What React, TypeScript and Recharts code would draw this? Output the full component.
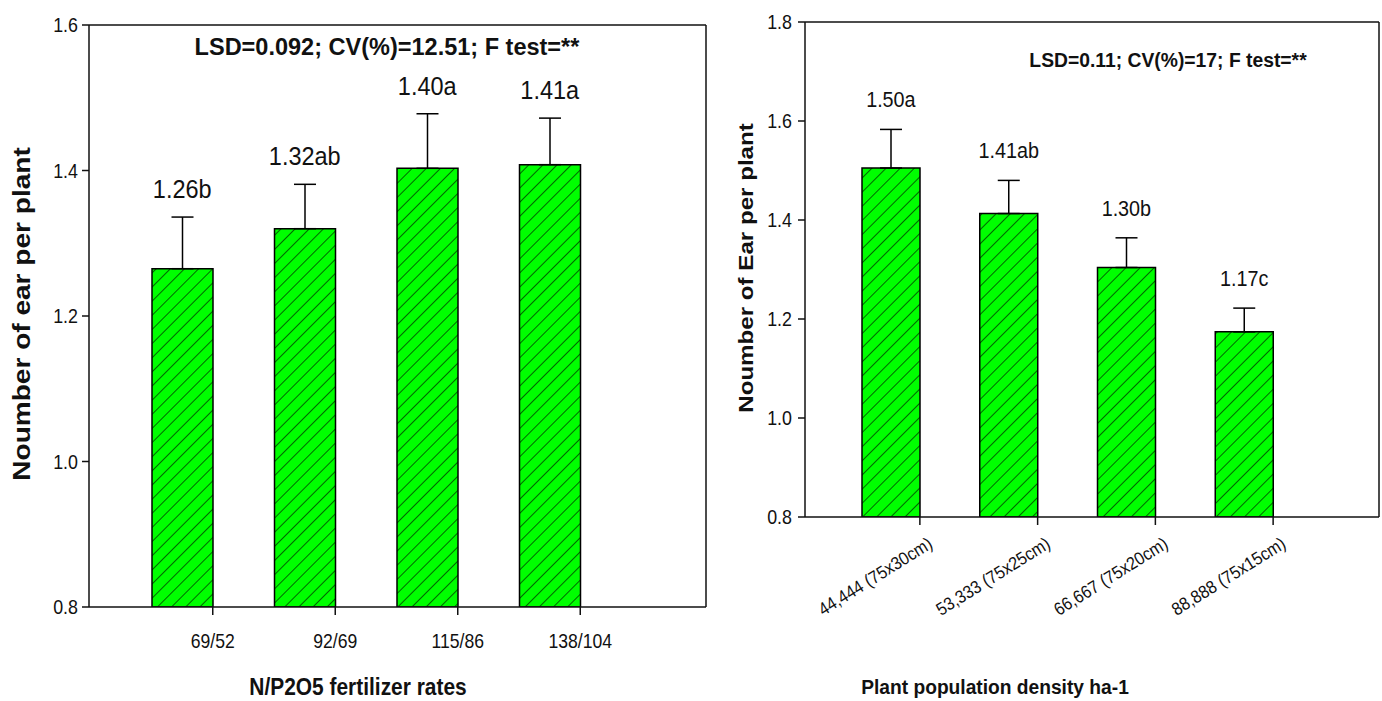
import React from 'react';
import { ComposedChart, Bar, Line, XAxis, YAxis, ErrorBar, LabelList, Label } from 'recharts';

const fertRates = ['69/52', '92/69', '115/86', '138/104'];
const fertMeans = [1.265, 1.32, 1.403, 1.408];
const fertErr = [0.071, 0.061, 0.075, 0.064];
const fertLetters = ['1.26b', '1.32ab', '1.40a', '1.41a'];
const fertTicks = [0.8, 1.0, 1.2, 1.4, 1.6];

const densityLabels = ['44,444 (75x30cm)', '53,333 (75x25cm)', '66,667 (75x20cm)', '88,888 (75x15cm)'];
const densityMeans = [1.505, 1.413, 1.304, 1.174];
const densityErr = [0.078, 0.067, 0.06, 0.048];
const densityLetters = ['1.50a', '1.41ab', '1.30b', '1.17c'];
const densityTicks = [0.8, 1.0, 1.2, 1.4, 1.6, 1.8];

const FONT = '"Liberation Sans", Arial, sans-serif';
const INK = '#111';

function buildRows(names: string[], means: number[], errs: number[], letters: string[]) {
  return names.map((name, i) => ({
    name,
    mean: means[i],
    err: [0, errs[i]],
    cap: means[i] + errs[i],
    letter: letters[i]
  }));
}

const fertRows = buildRows(fertRates, fertMeans, fertErr, fertLetters);
const densityRows = buildRows(densityLabels, densityMeans, densityErr, densityLetters);

function SText({ x, y, angle = 0, sx = 1, size, bold = false, anchor = 'middle', children }: any) {
  return (
    <text
      transform={`translate(${x},${y}) rotate(${angle}) scale(${sx},1)`}
      textAnchor={anchor}
      fontSize={size}
      fontWeight={bold ? 'bold' : 'normal'}
      fontFamily={FONT}
      fill={INK}
    >
      {children}
    </text>
  );
}

function Hatch({ id }: { id: string }) {
  return (
    <defs>
      <pattern id={id} patternUnits="userSpaceOnUse" width="10" height="10" patternTransform="rotate(45)">
        <rect width="10" height="10" fill="#00ff00" />
        <line x1="0" y1="0" x2="0" y2="10" stroke="#000" strokeWidth="1.2" />
      </pattern>
    </defs>
  );
}

const YTick = ({ x, y, payload }: any) => (
  <SText x={x} y={y + 7} size={21} sx={0.85} anchor="end">
    {Number(payload.value).toFixed(1)}
  </SText>
);

const LeftXTick = ({ x, y, payload }: any) => (
  <g>
    <line x1={x + 30.5} y1={y - 8} x2={x + 30.5} y2={y} stroke={INK} strokeWidth={1.5} />
    <SText x={x + 30.5} y={y + 33} size={20} sx={0.88}>
      {payload.value}
    </SText>
  </g>
);

const RightXTick = ({ x, y, payload }: any) => (
  <g>
    <line x1={x + 29} y1={y - 8} x2={x + 29} y2={y} stroke={INK} strokeWidth={1.5} />
    <SText x={x + 43} y={y + 22} size={18} sx={0.9} angle={-32} anchor="end">
      {payload.value}
    </SText>
  </g>
);

const letterLabel = (gap: number, size: number, sx: number) => (props: any) => (
  <SText x={props.x} y={props.y - gap} size={size} sx={sx}>
    {props.value}
  </SText>
);

const frameLine = { stroke: INK, strokeWidth: 1.5 };

function LeftChart() {
  return (
    <ComposedChart width={716} height={701} data={fertRows} margin={{ top: 24, right: 9, bottom: 0, left: 29 }}>
      <Hatch id="hatchL" />
      <XAxis
        dataKey="name"
        height={94}
        padding={{ left: 32, right: 95 }}
        axisLine={frameLine}
        tickLine={false}
        tickSize={8}
        tickMargin={0}
        tick={<LeftXTick />}
        interval={0}
      >
        <Label
          content={() => (
            <SText x={358} y={695} size={23} bold sx={0.91}>
              N/P2O5 fertilizer rates
            </SText>
          )}
        />
      </XAxis>
      <XAxis xAxisId="top" orientation="top" dataKey="name" height={1} tick={false} tickLine={false} axisLine={frameLine}>
        <Label
          content={() => (
            <SText x={387} y={55} size={24} bold sx={0.98}>
              LSD=0.092; CV(%)=12.51; F test=**
            </SText>
          )}
        />
      </XAxis>
      <YAxis
        domain={[0.8, 1.6]}
        ticks={fertTicks}
        allowDataOverflow
        width={60}
        tickSize={7}
        tickMargin={4}
        tick={<YTick />}
        axisLine={frameLine}
        tickLine={frameLine}
      >
        <Label
          content={() => (
            <SText x={30} y={314} angle={-90} size={23} bold sx={1.22}>
              Noumber of ear per plant
            </SText>
          )}
        />
      </YAxis>
      <YAxis yAxisId="r" orientation="right" width={1} tick={false} tickLine={false} axisLine={frameLine} />
      <Bar dataKey="mean" barSize={61} fill="url(#hatchL)" stroke="#000" strokeWidth={1.5} isAnimationActive={false}>
        <ErrorBar dataKey="err" direction="y" width={11} stroke="#000" strokeWidth={1.5} isAnimationActive={false} />
      </Bar>
      <Line dataKey="cap" stroke="none" dot={false} activeDot={false} isAnimationActive={false} legendType="none">
        <LabelList dataKey="letter" content={letterLabel(19, 25, 0.94)} />
      </Line>
    </ComposedChart>
  );
}

function RightChart() {
  return (
    <ComposedChart width={682} height={701} data={densityRows} margin={{ top: 21, right: 2, bottom: 0, left: 45 }}>
      <Hatch id="hatchR" />
      <XAxis
        dataKey="name"
        height={184}
        padding={{ left: 27, right: 76 }}
        axisLine={frameLine}
        tickLine={false}
        tickSize={8}
        tickMargin={0}
        tick={<RightXTick />}
        interval={0}
      >
        <Label
          content={() => (
            <SText x={295} y={694} size={20} bold sx={0.96}>
              Plant population density ha-1
            </SText>
          )}
        />
      </XAxis>
      <XAxis xAxisId="top" orientation="top" dataKey="name" height={1} tick={false} tickLine={false} axisLine={frameLine}>
        <Label
          content={() => (
            <SText x={468} y={67} size={21} bold sx={0.92}>
              LSD=0.11; CV(%)=17; F test=**
            </SText>
          )}
        />
      </XAxis>
      <YAxis
        domain={[0.8, 1.8]}
        ticks={densityTicks}
        allowDataOverflow
        width={60}
        tickSize={7}
        tickMargin={6}
        tick={<YTick />}
        axisLine={frameLine}
        tickLine={frameLine}
      >
        <Label
          content={() => (
            <SText x={53} y={268} angle={-90} size={21} bold sx={1.15}>
              Noumber of Ear per plant
            </SText>
          )}
        />
      </YAxis>
      <YAxis yAxisId="r" orientation="right" width={1} tick={false} tickLine={false} axisLine={frameLine} />
      <Bar dataKey="mean" barSize={58} fill="url(#hatchR)" stroke="#000" strokeWidth={1.5} isAnimationActive={false}>
        <ErrorBar dataKey="err" direction="y" width={11} stroke="#000" strokeWidth={1.5} isAnimationActive={false} />
      </Bar>
      <Line dataKey="cap" stroke="none" dot={false} activeDot={false} isAnimationActive={false} legendType="none">
        <LabelList dataKey="letter" content={letterLabel(22, 22, 0.9)} />
      </Line>
    </ComposedChart>
  );
}

export default function App() {
  return (
    <div style={{ position: 'absolute', left: 0, top: 0, width: 1382, height: 701, background: '#fff' }}>
      <div style={{ position: 'absolute', left: 0, top: 0 }}>
        <LeftChart />
      </div>
      <div style={{ position: 'absolute', left: 700, top: 0 }}>
        <RightChart />
      </div>
    </div>
  );
}
